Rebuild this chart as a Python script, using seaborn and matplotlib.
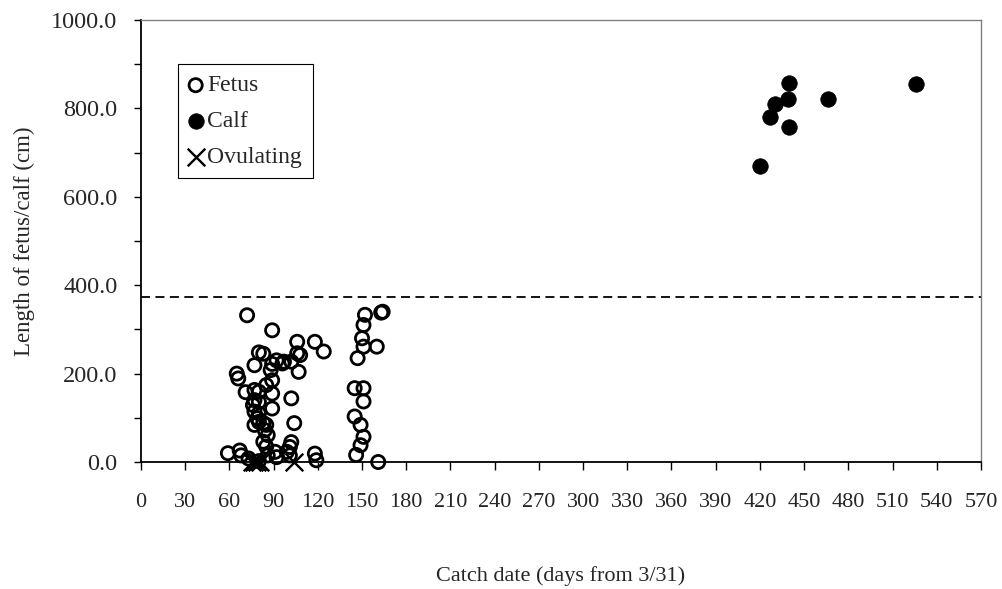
import matplotlib
matplotlib.use("Agg")
import matplotlib.pyplot as plt
import seaborn as sns
from matplotlib.ticker import MultipleLocator, FormatStrFormatter

# ---- data ----
fetus_day = [59, 67, 68, 73, 86, 91, 92,
             83, 85, 84, 86,
             80, 83, 77, 85,
             77, 80, 79, 89,
             77, 80, 76, 89, 71, 77, 80,
             66, 65, 89, 88, 85,
             77, 89, 92, 80, 83, 72, 89,
             96, 97, 102, 106, 108, 106, 118, 124, 107, 102, 104,
             102, 101, 99, 101, 118, 119,
             152, 163, 164, 151, 150, 151, 160, 147,
             145, 151, 151, 145, 149, 151, 149, 146, 161, 80]
fetus_len = [20, 26, 15, 8, 15, 23, 11,
             46, 35, 72, 61,
             91, 88, 84, 84,
             114, 110, 99, 121,
             140, 136, 129, 155, 158, 163, 159,
             189, 200, 185, 208, 174,
             219, 222, 230, 248, 245, 332, 298,
             223, 227, 227, 246, 242, 272, 272, 250, 204, 144, 88,
             45, 34, 23, 15, 19, 4,
             333, 338, 340, 310, 280, 261, 261, 235,
             167, 167, 137, 103, 84, 57, 38, 16, 0, 2]
calf_day = [420, 427, 430, 439, 440, 440, 466, 526]
calf_len = [670, 780, 809, 821, 858, 757, 821, 855]
ovul_day = [75, 77, 79, 81, 104]
ovul_len = [0, 0, 0, 0, 0]
threshold = 373
x_ticks = list(range(0, 571, 30))

sns.set_theme(style="white")
plt.rcParams['font.family'] = ['Liberation Serif', 'DejaVu Serif']

fig, ax = plt.subplots(figsize=(10.02, 5.89), dpi=100)
fig.subplots_adjust(left=0.1407, right=0.979, top=0.966, bottom=0.2156)

sns.scatterplot(x=fetus_day, y=fetus_len, marker='o', s=90, color='black',
                facecolors='none', edgecolors='black', linewidth=2.0,
                ax=ax, label='Fetus', clip_on=False, zorder=3)
sns.scatterplot(x=calf_day, y=calf_len, marker='o', s=125, color='black',
                edgecolor='black', linewidth=0.5,
                ax=ax, label='Calf', clip_on=False, zorder=3)
sns.scatterplot(x=ovul_day, y=ovul_len, marker='x', s=160, color='black',
                linewidth=1.7, ax=ax, label='Ovulating', clip_on=False, zorder=4)

ax.axhline(threshold, color='black', linestyle=(0, (5, 3)), linewidth=1.3, zorder=1)

ax.set_xlim(0, 570)
ax.set_ylim(0, 1000)
ax.set_xticks(x_ticks)
ax.set_xticklabels([str(t) for t in x_ticks])
ax.yaxis.set_major_locator(MultipleLocator(200))
ax.yaxis.set_minor_locator(MultipleLocator(100))
ax.yaxis.set_major_formatter(FormatStrFormatter('%.1f'))

ax.tick_params(axis='x', which='major', bottom=True, direction='out', length=6,
               width=1, color='black', labelsize=16, pad=16)
ax.tick_params(axis='y', which='both', left=True, direction='out', length=5,
               width=1, color='black', labelsize=17.5, pad=12)

for s in ['top', 'right']:
    ax.spines[s].set_color('#808080')
    ax.spines[s].set_linewidth(1.0)
for s in ['left', 'bottom']:
    ax.spines[s].set_color('black')
    ax.spines[s].set_linewidth(1.3)

ax.set_xlabel('Catch date (days from 3/31)', fontsize=16)
ax.set_ylabel('Length of fetus/calf (cm)', fontsize=16.5)
ax.xaxis.set_label_coords(0.5, -0.235)
ax.yaxis.set_label_coords(-0.126, 0.5)

leg = ax.legend(loc='upper left', bbox_to_anchor=(0.044, 0.9), frameon=True,
                fancybox=False, edgecolor='black', framealpha=1, fontsize=17,
                borderpad=0.45, handletextpad=0.2, labelspacing=0.6,
                handlelength=0.6, borderaxespad=0, scatterpoints=1)
leg.get_frame().set_linewidth(0.8)

fig.savefig('out.png', dpi=100)
